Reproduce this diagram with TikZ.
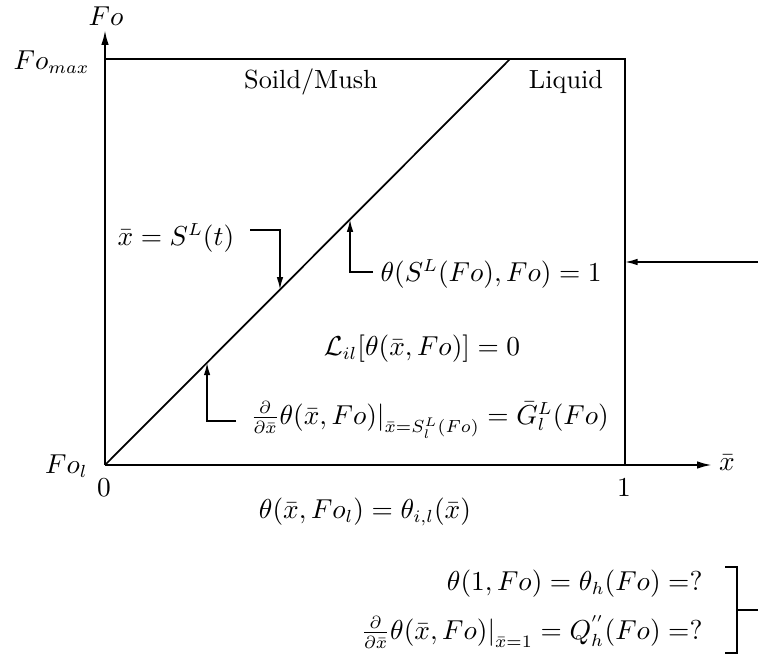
\documentclass[tikz,border=0pt]{standalone}
\usetikzlibrary{arrows.meta,calc}
\begin{document}
\begin{tikzpicture}[x=0.4pt,y=-0.4pt,
  ln/.style={line width=0.7pt},
  arr/.style={line width=0.6pt,-{Latex[length=5pt,width=2.6pt]}},
  axarr/.style={line width=0.8pt,-{Latex[length=6pt,width=3pt]}},
  lbl/.style={inner sep=0pt,font=\fontsize{10.5}{12.5}\selectfont}]
\useasboundingbox (0,0) rectangle (758,664);
% axes and box
\coordinate (O) at (105,465);
\coordinate (Ytip) at (105,30);
\coordinate (Xtip) at (712,465);
\coordinate (TL) at (105,59);
\coordinate (TR) at (625,59);
\coordinate (BR) at (625,465);
\coordinate (T) at (510,59);
\draw[axarr] (O) -- (Ytip);
\draw[axarr] (O) -- (Xtip);
\draw[ln] (TL) -- (TR) -- (BR);
\draw[ln] (O) -- (T);
% points on the front
\coordinate (p1) at ($(O)!0.432!(T)$);
\coordinate (p2) at ($(O)!0.605!(T)$);
\coordinate (p3) at ($(O)!0.252!(T)$);
% axis labels
\node[lbl] (fo) at (106,16) {$Fo$};
\node[lbl,anchor=east] (fomax) at (90,62) {$Fo_{max}$};
\node[lbl,anchor=east] (fol) at (88,466) {$Fo_l$};
\node[lbl] (zero) at (104,488) {$0$};
\node[lbl] (one) at (624,488) {$1$};
\node[lbl] (xb) at (727,463) {$\bar{x}$};
% regions
\node[lbl] (solid) at (311,82) {Soild/Mush};
\node[lbl] (liquid) at (566,82) {Liquid};
% labels with arrows
\node[lbl,anchor=west] (sl) at (117,238) {$\bar{x}=S^L(t)$};
\coordinate (c1) at (250,230);
\draw[arr] (c1) -| (p1);
\node[lbl,anchor=west] (th1) at (380,274) {$\theta(S^L(Fo),Fo)=1$};
\coordinate (c2) at (373,272);
\draw[arr] (c2) -| (p2);
\node[lbl] (lil) at (422,349) {$\mathcal{L}_{il}[\theta(\bar{x},Fo)]=0$};
\node[lbl,anchor=west] (grad) at (250,420) {$\frac{\partial}{\partial\bar{x}}\theta(\bar{x},Fo)\big|_{\bar{x}=S_l^L(Fo)}=\bar{G}_l^L(Fo)$};
\coordinate (c3) at (236,421);
\draw[arr] (c3) -| (p3);
\node[lbl] (init) at (365,512) {$\theta(\bar{x},Fo_l)=\theta_{i,l}(\bar{x})$};
% right boundary
\coordinate (rin) at (758,262);
\draw[arr] (rin) -- (BR |- rin);
\node[lbl,anchor=east] (bc1) at (703,584) {$\theta(1,Fo)=\theta_h(Fo)=?$};
\node[lbl,anchor=east] (bc2) at (703,632) {$\frac{\partial}{\partial\bar{x}}\theta(\bar{x},Fo)\big|_{\bar{x}=1}=Q_h^{''}(Fo)=?$};
\coordinate (bt) at (737,567);
\coordinate (bb) at (737,653);
\coordinate (bm) at (737,610);
\coordinate (bo) at (758,610);
\draw[ln] ($(bt)+(-12,0)$) -- (bt) -- (bb) -- ($(bb)+(-12,0)$);
\draw[ln] (bm) -- (bo);
\end{tikzpicture}
\end{document}
